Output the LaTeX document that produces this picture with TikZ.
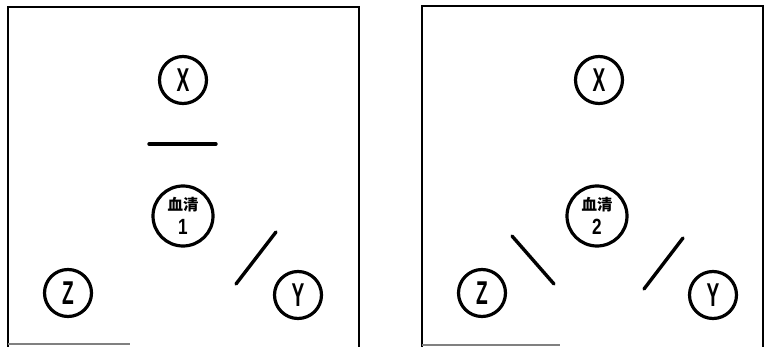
\documentclass[tikz,border=0pt]{standalone}
\usepackage{fontspec}
\setmainfont{Liberation Sans}
\newfontfamily\cjk{Noto Sans CJK SC}[BoldFont={* Black}]
\begin{document}
\begin{tikzpicture}[x=1pt,y=-1pt,
  ring/.style={circle,draw,line width=3.2pt,minimum size=47pt,inner sep=0pt},
  bigring/.style={circle,draw,line width=3.2pt,minimum size=60pt,inner sep=0pt,
    align=center,font=\fontsize{15.5}{24}\selectfont},
  panel/.style={draw,line width=1.6pt},
  band/.style={line width=3.4pt,line cap=round}]
\useasboundingbox (0,0) rectangle (765,347);
\newcommand{\lett}[1]{\scalebox{0.58}[1]{\bfseries\fontsize{33}{33}\selectfont #1}}
\newcommand{\serum}[1]{{\cjk\bfseries 血清}\\\scalebox{0.78}[1]{\bfseries\fontsize{22}{24}\selectfont #1}}
% left panel
\draw[panel] (8,347) -- (8,7) -- (359,7) -- (359,347);
\draw[panel,gray] (8,344) -- (130,344);
\node[ring] (x1) at (183,80) {\lett{X}};
\node[bigring] (s1) at (183,216) {\serum{1}};
\node[ring] (z1) at (68,293) {\lett{Z}};
\node[ring] (y1) at (298,295) {\lett{Y}};
\coordinate (h1a) at (149,144);
\coordinate (h1b) at (216,144);
\draw[band] (h1a) -- (h1b);
\coordinate (d1a) at (236,284);
\coordinate (d1b) at (276,232);
\draw[band] (d1a) -- (d1b);
% right panel
\draw[panel] (422,347) -- (422,6) -- (763,6) -- (763,347);
\draw[panel,gray] (422,345) -- (560,345);
\node[ring] (x2) at (599,80) {\lett{X}};
\node[bigring] (s2) at (597,216) {\serum{2}};
\node[ring] (z2) at (482,293) {\lett{Z}};
\node[ring] (y2) at (713,295) {\lett{Y}};
\coordinate (d2a) at (512,236);
\coordinate (d2b) at (554,284);
\draw[band] (d2a) -- (d2b);
\coordinate (d3a) at (683,238);
\coordinate (d3b) at (644,289);
\draw[band] (d3a) -- (d3b);
\end{tikzpicture}
\end{document}
